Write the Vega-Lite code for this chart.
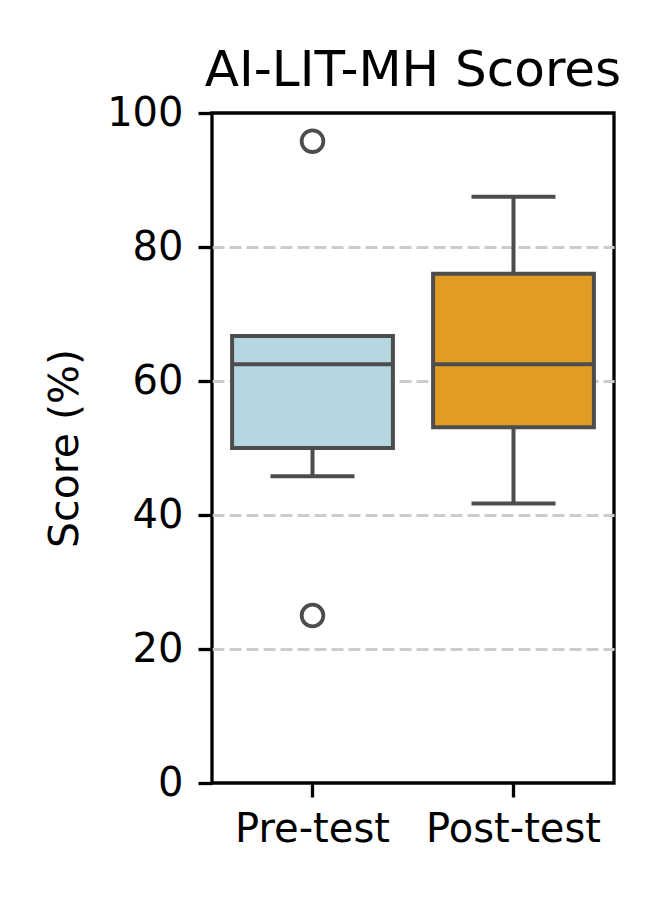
{
  "$schema": "https://vega.github.io/schema/vega-lite/v6.json",
  "width": 402,
  "height": 670,
  "autosize": {"type": "none"},
  "padding": {"left": 212, "top": 113, "right": 46, "bottom": 117},
  "background": "white",
  "title": {
    "text": "AI-LIT-MH Scores",
    "fontSize": 50,
    "fontWeight": "normal",
    "color": "black",
    "font": "DejaVu Sans",
    "baseline": "alphabetic",
    "offset": -43
  },
  "config": {
    "font": "DejaVu Sans",
    "view": {"stroke": "black", "strokeWidth": 3.3},
    "axis": {
      "labelColor": "black",
      "titleColor": "black",
      "tickColor": "black",
      "tickWidth": 3.3,
      "tickSize": 14,
      "domain": false,
      "labelFont": "DejaVu Sans",
      "titleFont": "DejaVu Sans"
    }
  },
  "datasets": {
    "boxes": [
      {"group": "Pre-test", "lower": 45.8, "q1": 50, "median": 62.5, "q3": 66.7, "upper": 66.7},
      {"group": "Post-test", "lower": 41.7, "q1": 53.1, "median": 62.5, "q3": 76, "upper": 87.5}
    ],
    "outliers": [
      {"group": "Pre-test", "score": 95.8},
      {"group": "Pre-test", "score": 25}
    ]
  },
  "encoding": {
    "x": {
      "field": "group",
      "type": "nominal",
      "sort": ["Pre-test", "Post-test"],
      "scale": {"paddingInner": 0, "paddingOuter": 0},
      "axis": {
        "title": null,
        "labelAngle": 0,
        "labelFontSize": 40,
        "labelPadding": 12,
        "grid": false
      }
    }
  },
  "layer": [
    {
      "data": {"name": "boxes"},
      "mark": {"type": "rule", "color": "#4d4d4d", "strokeWidth": 4},
      "encoding": {
        "y": {
          "field": "lower",
          "type": "quantitative",
          "scale": {"domain": [0, 100], "nice": false},
          "axis": {
            "title": "Score (%)",
            "titleFontSize": 41,
            "titleFontWeight": "normal",
            "titlePadding": 20,
            "values": [0, 20, 40, 60, 80, 100],
            "labelFontSize": 40,
            "labelPadding": 15,
            "grid": true,
            "gridColor": "#cccccc",
            "gridDash": [12, 5],
            "gridWidth": 2.8,
            "gridOpacity": {"condition": {"test": "datum.value == 0 || datum.value == 100", "value": 0}, "value": 1}
          }
        },
        "y2": {"field": "q1"}
      }
    },
    {
      "data": {"name": "boxes"},
      "mark": {"type": "rule", "color": "#4d4d4d", "strokeWidth": 4},
      "encoding": {
        "y": {"field": "q3", "type": "quantitative"},
        "y2": {"field": "upper"}
      }
    },
    {
      "data": {"name": "boxes"},
      "mark": {"type": "bar", "width": {"band": 0.8}, "stroke": "#4d4d4d", "strokeWidth": 4},
      "encoding": {
        "y": {"field": "q1", "type": "quantitative"},
        "y2": {"field": "q3"},
        "color": {
          "field": "group",
          "type": "nominal",
          "scale": {"domain": ["Pre-test", "Post-test"], "range": ["#b4d7e2", "#e09c23"]},
          "legend": null
        }
      }
    },
    {
      "data": {"name": "boxes"},
      "mark": {"type": "tick", "color": "#4d4d4d", "size": 161, "thickness": 4, "opacity": 1},
      "encoding": {
        "y": {"field": "median", "type": "quantitative"}
      }
    },
    {
      "data": {"name": "boxes"},
      "mark": {"type": "tick", "color": "#4d4d4d", "size": 84, "thickness": 4, "opacity": 1},
      "encoding": {
        "y": {"field": "lower", "type": "quantitative"}
      }
    },
    {
      "data": {"name": "boxes"},
      "mark": {"type": "tick", "color": "#4d4d4d", "size": 84, "thickness": 4, "opacity": 1},
      "encoding": {
        "y": {"field": "upper", "type": "quantitative"}
      }
    },
    {
      "data": {"name": "outliers"},
      "mark": {"type": "point", "shape": "circle", "filled": false, "color": "#4d4d4d", "strokeWidth": 3.8, "size": 470, "opacity": 1},
      "encoding": {
        "y": {"field": "score", "type": "quantitative"}
      }
    }
  ]
}
